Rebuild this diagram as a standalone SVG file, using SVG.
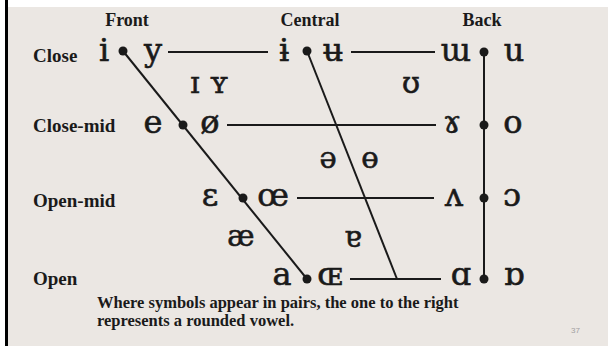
<svg xmlns="http://www.w3.org/2000/svg" width="608" height="346" viewBox="0 0 608 346">
<style>
.lbl{font-family:"Liberation Serif","Times New Roman",serif;font-weight:bold;font-size:19px;fill:#1a1a1a}
.hdr{font-family:"Liberation Serif","Times New Roman",serif;font-weight:bold;font-size:18px;fill:#1a1a1a;text-anchor:middle}
.v{font-family:"DejaVu Serif","Liberation Serif",serif;font-size:32px;fill:#1a1a1a;stroke:#1a1a1a;stroke-width:0.6;text-anchor:middle}
.vs{font-family:"DejaVu Serif","Liberation Serif",serif;font-size:29px;fill:#1a1a1a;stroke:#1a1a1a;stroke-width:0.6;text-anchor:middle}
.cap{font-family:"Liberation Serif","Times New Roman",serif;font-weight:bold;font-size:16.5px;fill:#1a1a1a}
.ln{stroke:#1a1a1a;stroke-width:2;fill:none}
.dot{fill:#1a1a1a}
</style>
<rect x="0" y="0" width="608" height="346" fill="#ffffff"/>
<rect x="8" y="7" width="600" height="339" fill="#ebe7e3"/>
<rect x="5" y="0" width="3" height="346" fill="#000000"/>
<g id="connectors">
<line class="ln" x1="123" y1="51" x2="307" y2="279"/>
<line class="ln" x1="307" y1="51" x2="397" y2="279"/>
<line class="ln" x1="484" y1="52" x2="484" y2="279"/>
<line class="ln" x1="168" y1="52" x2="268" y2="52"/>
<line class="ln" x1="351" y1="52" x2="435" y2="52"/>
<line class="ln" x1="227" y1="125" x2="436" y2="125"/>
<line class="ln" x1="297" y1="198" x2="434" y2="198"/>
<line class="ln" x1="350" y1="279" x2="441" y2="279"/>
</g>
<g id="headers">
<text class="hdr" x="127" y="26">Front</text>
<text class="hdr" x="310" y="26">Central</text>
<text class="hdr" x="482" y="26">Back</text>
</g>
<g id="row-labels">
<text class="lbl" x="33" y="62">Close</text>
<text class="lbl" x="33" y="132">Close-mid</text>
<text class="lbl" x="33" y="207">Open-mid</text>
<text class="lbl" x="33" y="285">Open</text>
</g>
<g id="front-close"><text class="v" x="104" y="61">i</text><circle class="dot" cx="123" cy="51" r="4.5"/><text class="v" x="153" y="61">y</text></g>
<g id="central-close"><text class="v" x="284" y="61">ɨ</text><circle class="dot" cx="307" cy="51" r="4.5"/><text class="v" x="333" y="61">ʉ</text></g>
<g id="back-close"><text class="v" x="456" y="61">ɯ</text><circle class="dot" cx="484" cy="52" r="4.5"/><text class="v" x="514" y="61">u</text></g>
<g id="near-close-front"><text class="vs" x="195" y="93">ɪ</text><text class="vs" x="219" y="93">ʏ</text></g>
<g id="near-close-back"><text class="vs" x="411" y="93">ʊ</text></g>
<g id="front-close-mid"><text class="v" x="153" y="133">e</text><circle class="dot" cx="183" cy="125" r="4.5"/><text class="v" x="210" y="133">ø</text></g>
<g id="back-close-mid"><text class="v" x="452" y="133">ɤ</text><circle class="dot" cx="484" cy="125" r="4.5"/><text class="v" x="513" y="133">o</text></g>
<g id="mid-central"><text class="vs" x="328" y="168">ə</text><text class="vs" x="370" y="168">ɵ</text></g>
<g id="front-open-mid"><text class="v" x="210" y="206">ɛ</text><circle class="dot" cx="243" cy="198" r="4.5"/><text class="v" x="273" y="206">œ</text></g>
<g id="back-open-mid"><text class="v" x="454" y="206">ʌ</text><circle class="dot" cx="484" cy="198" r="4.5"/><text class="v" x="512" y="206">ɔ</text></g>
<g id="near-open-front"><text class="vs" x="241" y="246">æ</text></g>
<g id="near-open-central"><text class="vs" x="353" y="247">ɐ</text></g>
<g id="front-open"><text class="v" x="282" y="285">a</text><circle class="dot" cx="307" cy="279" r="4.5"/><text class="v" x="330" y="285">ɶ</text></g>
<g id="back-open"><text class="v" x="461" y="285">ɑ</text><circle class="dot" cx="484" cy="279" r="4.5"/><text class="v" x="514" y="285">ɒ</text></g>
<g id="caption">
<text class="cap" x="97" y="308">Where symbols appear in pairs, the one to the right</text>
<text class="cap" x="97" y="326">represents a rounded vowel.</text>
</g>
<text x="571" y="333" font-family="Liberation Sans, Arial, sans-serif" font-size="8" fill="#a0a0a0">37</text>
</svg>
